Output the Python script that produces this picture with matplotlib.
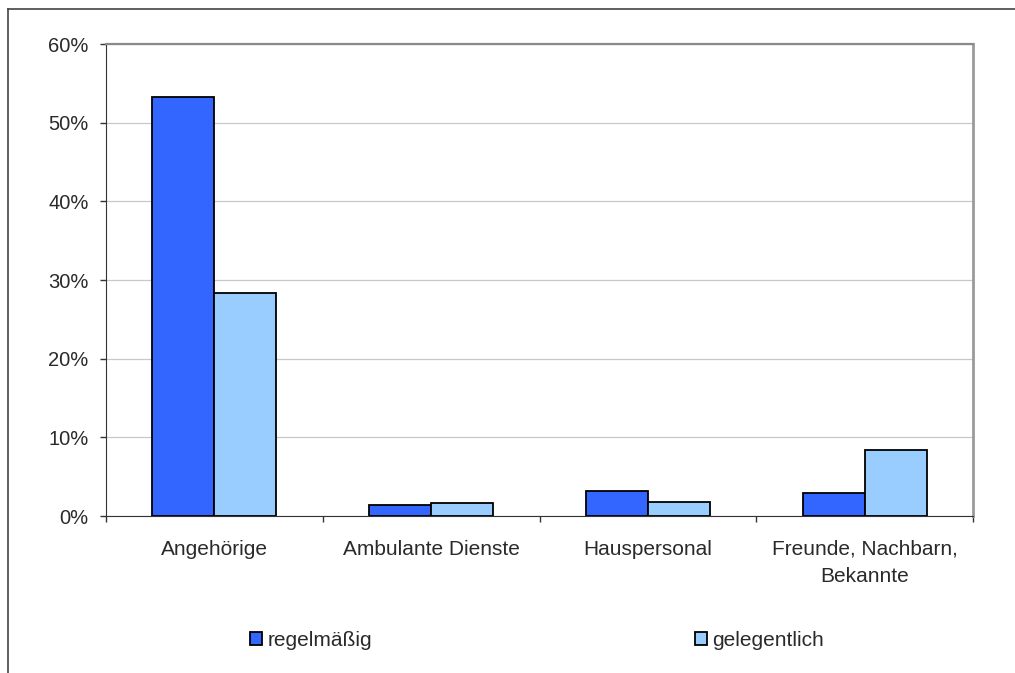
"""Bar chart: Unterstützung durch Angehörige, Dienste, Personal und Bekannte."""
import matplotlib
matplotlib.use("Agg")
import matplotlib.pyplot as plt
from matplotlib.patches import Patch
from matplotlib.lines import Line2D
import numpy as np

plt.rcParams['font.family'] = ['Liberation Sans', 'DejaVu Sans']

categories = ["Angehörige", "Ambulante Dienste", "Hauspersonal", "Freunde, Nachbarn,\nBekannte"]
regelmaessig = [53.3, 1.4, 3.2, 2.9]
gelegentlich = [28.3, 1.6, 1.8, 8.4]
series_names = ["regelmäßig", "gelegentlich"]
yticks = [0, 10, 20, 30, 40, 50, 60]

W, H = 1015, 673
fig = plt.figure(figsize=(W / 100, H / 100), dpi=100)

# outer frame (left and top edges only show in the canvas)
frame_kw = dict(color="#444444", lw=1.2, transform=fig.transFigure)
fig.add_artist(Line2D([8 / W, 8 / W], [0, 1 - 9 / H], **frame_kw))
fig.add_artist(Line2D([8 / W, 1], [1 - 9 / H, 1 - 9 / H], **frame_kw))

ax = fig.add_axes([106 / W, (H - 516) / H, 867 / W, 472 / H])

x = np.arange(len(categories))
bw = 0.286
ax.bar(x - bw / 2, regelmaessig, bw, color="#3366FF", edgecolor="black", lw=1.3, zorder=3)
ax.bar(x + bw / 2, gelegentlich, bw, color="#99CCFF", edgecolor="black", lw=1.3, zorder=3)

ax.set_xlim(-0.5, len(categories) - 0.5)
ax.set_ylim(0, 60)

txt_color = "#2a2a2a"
ax.set_yticks(yticks)
ax.set_yticklabels([f"{v}%" for v in yticks])
ax.yaxis.grid(True, color="#c8c8c8", lw=0.9, zorder=0)
ax.tick_params(axis="y", length=4.5, width=1, color="#333333", pad=8,
               labelsize=14.5, labelcolor=txt_color)

# ticks at category boundaries, labels at centers
ax.set_xticks(np.arange(-0.5, len(categories)))
ax.set_xticklabels([])
ax.set_xticks(x, minor=True)
ax.set_xticklabels(categories, minor=True, linespacing=1.55)
ax.tick_params(axis="x", which="major", length=4.5, width=1, color="#333333")
ax.tick_params(axis="x", which="minor", length=0, pad=17, labelsize=15, labelcolor=txt_color)

ax.spines["left"].set_color("#333333")
ax.spines["bottom"].set_color("#333333")
ax.spines["top"].set_color("#8a8a8a")
ax.spines["top"].set_linewidth(1.6)
ax.spines["right"].set_color("#9a9a9a")
ax.spines["right"].set_linewidth(2)

leg_kw = dict(frameon=False, handlelength=0.58, handleheight=0.58,
              handletextpad=0.25, borderpad=0, borderaxespad=0, loc="center left",
              prop={"size": 15})
for xpos, name, color in [(250, series_names[0], "#3366FF"), (695, series_names[1], "#99CCFF")]:
    leg = fig.legend(handles=[Patch(facecolor=color, edgecolor="black", lw=1.3, label=name)],
                     bbox_to_anchor=(xpos / W, 1 - 640 / H), **leg_kw)
    for t in leg.get_texts():
        t.set_color(txt_color)

fig.savefig("out.png", dpi=100)
